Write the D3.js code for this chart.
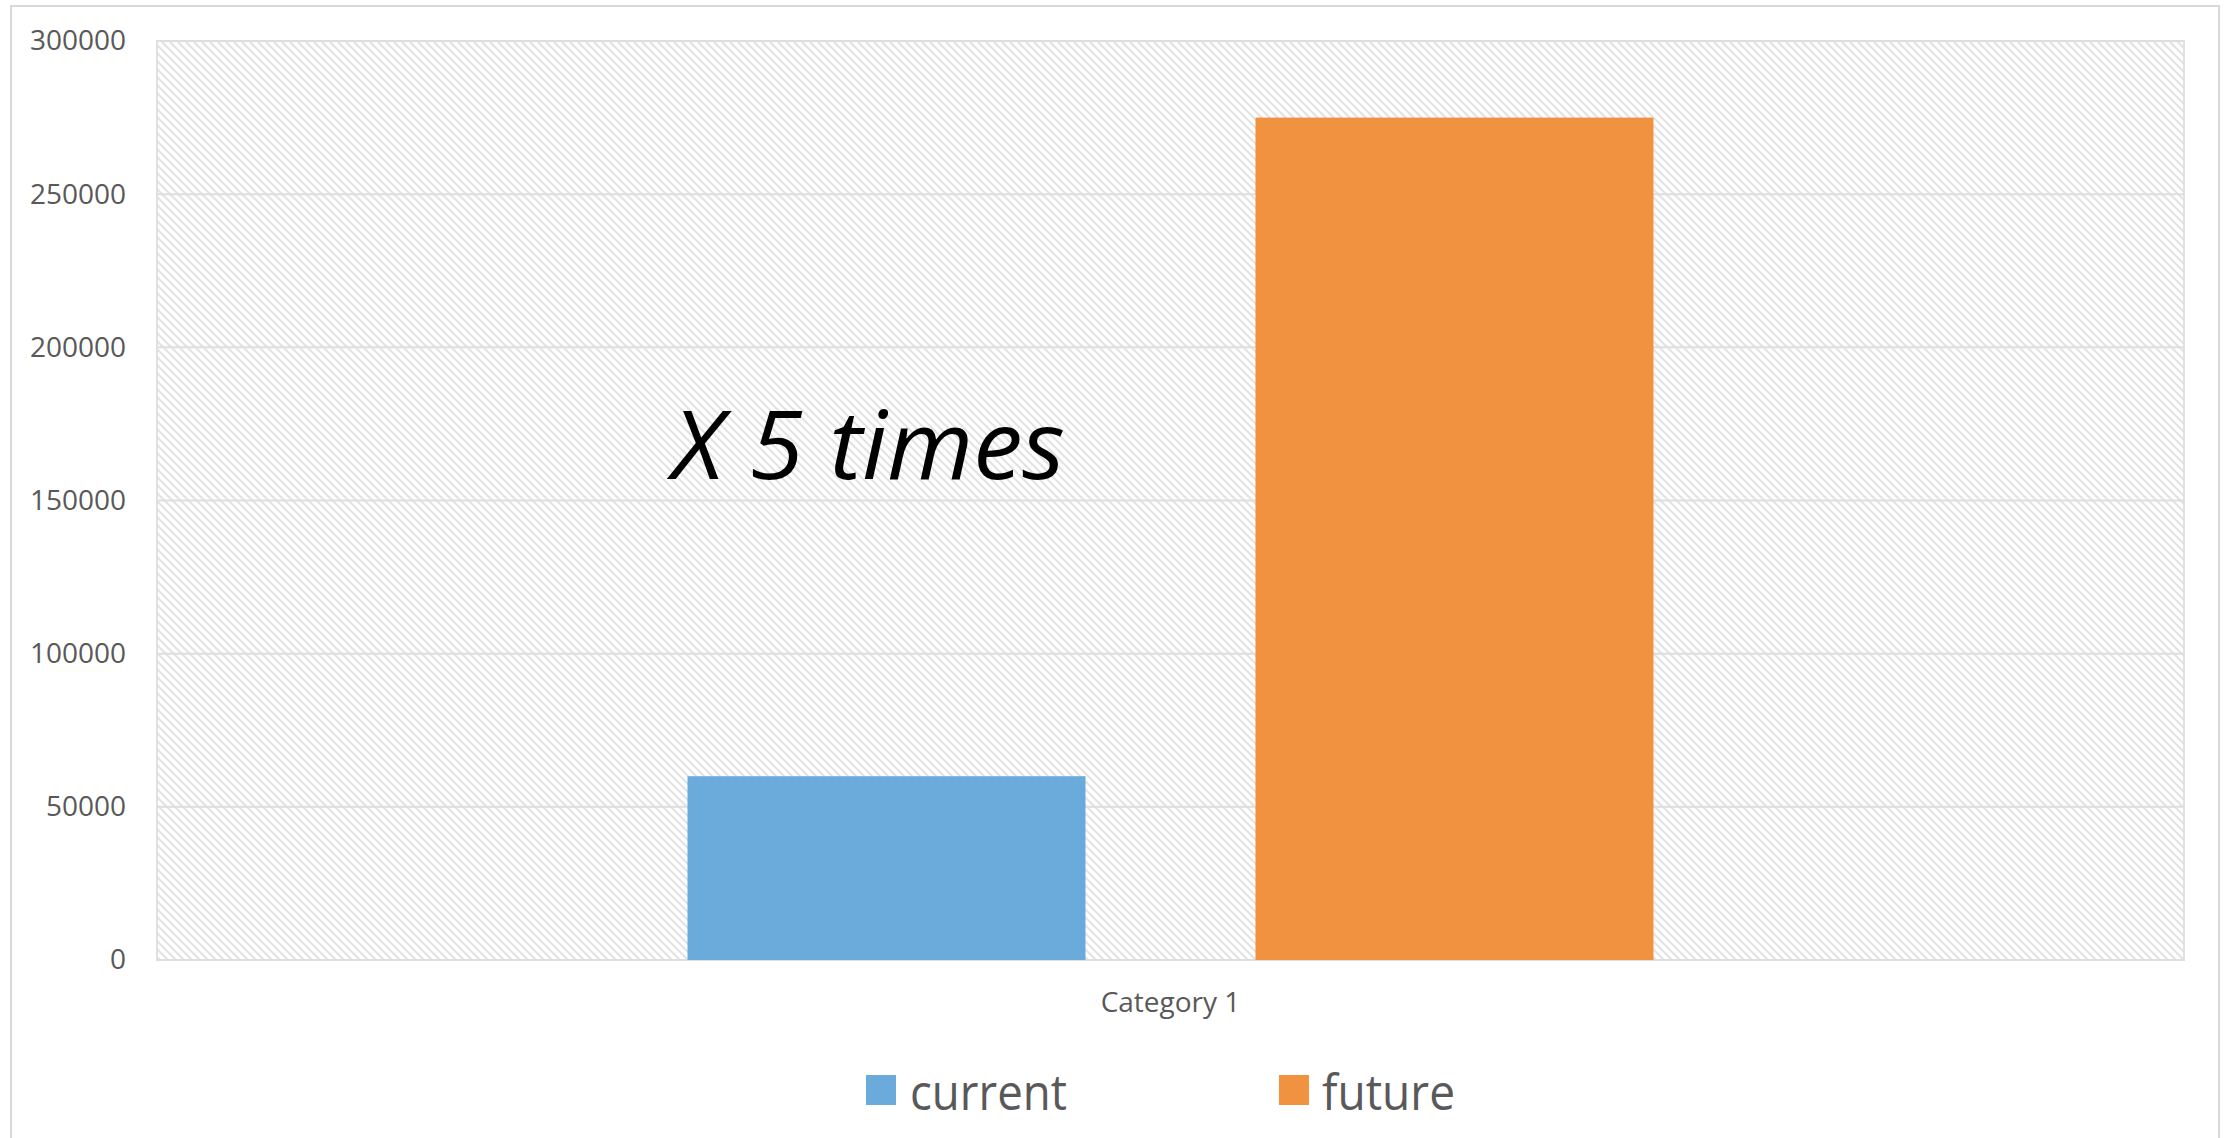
<!DOCTYPE html>
<html>
<head>
<meta charset="utf-8">
<script src="https://cdn.jsdelivr.net/npm/d3@7"></script>
<style>
  html, body { margin: 0; padding: 0; background: #ffffff; }
  svg { display: block; }
  text { font-family: "Open Sans", "DejaVu Sans", sans-serif; }
</style>
</head>
<body>
<svg id="chart" width="2234" height="1138"></svg>
<script>
const categories = ["Category 1"];
const seriesNames = ["current", "future"];
const currentValues = [60000];
const futureValues = [275000];
const yTickValues = [0, 50000, 100000, 150000, 200000, 250000, 300000];
const seriesColors = ["#6aabdb", "#f19241"];
const annotation = "X 5 times";

const W = 2234, H = 1138;
const plot = { left: 157, right: 2184, top: 41, bottom: 960 };

const svg = d3.select("#chart");

// hatch pattern
const defs = svg.append("defs");
const pat = defs.append("pattern")
  .attr("id", "hatch")
  .attr("patternUnits", "userSpaceOnUse")
  .attr("width", 8).attr("height", 8);
pat.append("rect").attr("width", 8).attr("height", 8).attr("fill", "#ffffff");
pat.append("path")
  .attr("d", "M-2,-2 L10,10 M-2,6 L2,10 M6,-2 L10,2")
  .attr("stroke", "#e3e3e3")
  .attr("stroke-width", 2.2);

// outer chart border
svg.append("rect")
  .attr("x", 11).attr("y", 6)
  .attr("width", 2208).attr("height", 1145)
  .attr("fill", "#ffffff")
  .attr("stroke", "#d9d9d9")
  .attr("stroke-width", 2);

const y = d3.scaleLinear().domain([0, 300000]).range([plot.bottom, plot.top]);
const x0 = d3.scaleBand().domain(categories).range([plot.left, plot.right]).padding(0);
const x1 = d3.scaleBand().domain(seriesNames)
  .range([0, x0.bandwidth()])
  .paddingInner(0.2993)
  .paddingOuter(0.934);

// plot area
svg.append("rect")
  .attr("x", plot.left).attr("y", plot.top)
  .attr("width", plot.right - plot.left).attr("height", plot.bottom - plot.top)
  .attr("fill", "url(#hatch)")
  .attr("stroke", "#e0e0e0")
  .attr("stroke-width", 2);

// gridlines
svg.append("g").selectAll("line")
  .data(yTickValues)
  .join("line")
  .attr("x1", plot.left).attr("x2", plot.right)
  .attr("y1", d => y(d)).attr("y2", d => y(d))
  .attr("stroke", "#dedede")
  .attr("stroke-width", 2);

// y axis labels
const yAxis = d3.axisLeft(y).tickValues(yTickValues).tickFormat(d3.format("d")).tickSize(0).tickPadding(31);
const gy = svg.append("g").attr("transform", `translate(${plot.left},0)`).call(yAxis);
gy.select(".domain").remove();
gy.selectAll("text")
  .attr("font-size", 28)
  .attr("font-family", "'Open Sans', sans-serif")
  .attr("fill", "#595959");

// bars
const rows = categories.map((c, i) => ({ category: c, values: [currentValues[i], futureValues[i]] }));
const gBars = svg.append("g");
rows.forEach(r => {
  gBars.selectAll(null)
    .data(seriesNames.map((s, j) => ({ s, v: r.values[j], j })))
    .join("rect")
    .attr("x", d => x0(r.category) + x1(d.s))
    .attr("y", d => y(d.v))
    .attr("width", x1.bandwidth())
    .attr("height", d => y(0) - y(d.v))
    .attr("fill", d => seriesColors[d.j]);
});

// x axis labels
const xAxis = d3.axisBottom(x0).tickSize(0).tickPadding(32);
const gx = svg.append("g").attr("transform", `translate(0,${plot.bottom})`).call(xAxis);
gx.select(".domain").remove();
gx.selectAll("text")
  .attr("font-size", 28)
  .attr("font-family", "'Open Sans', sans-serif")
  .attr("fill", "#595959");

// annotation
svg.append("text")
  .attr("x", 672).attr("y", 479)
  .attr("font-size", 95)
  .attr("font-style", "italic")
  .attr("fill", "#000000")
  .attr("textLength", 393)
  .attr("lengthAdjust", "spacingAndGlyphs")
  .text(annotation);

// legend
const legendItems = [
  { name: seriesNames[0], color: seriesColors[0], mx: 866, tx: 910, tl: 157 },
  { name: seriesNames[1], color: seriesColors[1], mx: 1279, tx: 1322, tl: 133 }
];
const gl = svg.append("g");
legendItems.forEach(it => {
  gl.append("rect")
    .attr("x", it.mx).attr("y", 1075)
    .attr("width", 30).attr("height", 30)
    .attr("fill", it.color);
  gl.append("text")
    .attr("x", it.tx).attr("y", 1110)
    .attr("font-size", 50)
    .attr("fill", "#595959")
    .attr("textLength", it.tl)
    .attr("lengthAdjust", "spacingAndGlyphs")
    .text(it.name);
});
</script>
</body>
</html>
